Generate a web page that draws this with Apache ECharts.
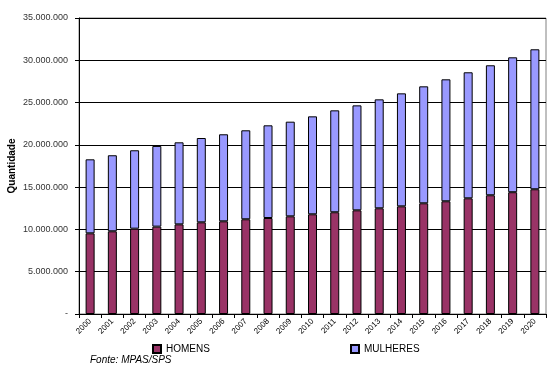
<!DOCTYPE html>
<html><head><meta charset="utf-8">
<script src="https://cdn.jsdelivr.net/npm/echarts@6/dist/echarts.min.js"></script>
<style>html,body{margin:0;padding:0;background:#fff}#c{width:553px;height:367px}</style>
</head><body><div id="c"></div>
<script>
var years = ['2000','2001','2002','2003','2004','2005','2006','2007','2008','2009','2010','2011','2012','2013','2014','2015','2016','2017','2018','2019','2020'];
var homens = [9540000,9780000,10090000,10330000,10600000,10840000,10960000,11200000,11350000,11550000,11790000,12030000,12260000,12500000,12730000,13090000,13330000,13680000,14040000,14400000,14750000];
var totais = [18290000,18770000,19360000,19870000,20300000,20810000,21250000,21720000,22310000,22740000,23370000,24080000,24670000,25380000,26090000,26920000,27750000,28580000,29410000,30350000,31300000];
var mulheres = totais.map(function(t,i){return t - homens[i];});

var chart = echarts.init(document.getElementById('c'));
function fmt(v){ if(v===0) return '-'; return String(v).replace(/\B(?=(\d{3})+(?!\d))/g,'.'); }
chart.setOption({
  animation:false,
  textStyle:{fontFamily:'Liberation Sans, Arial, sans-serif'},
  grid:{left:79,right:7,top:18,bottom:53,show:true,borderColor:'#808080',borderWidth:1,outerBoundsMode:'none',containLabel:false},
  legend:[
    {data:['HOMENS'],left:152,top:344,icon:'rect',itemWidth:8,itemHeight:8,itemGap:3,textStyle:{fontSize:10,color:'#000'},padding:0},
    {data:['MULHERES'],left:350,top:344,icon:'rect',itemWidth:8,itemHeight:8,itemGap:3,textStyle:{fontSize:10,color:'#000'},padding:0}
  ],
  graphic:[{type:'text',left:90,top:355,style:{text:'Fonte: MPAS/SPS',font:'italic 10px Liberation Sans, Arial, sans-serif',fill:'#000'}}],
  xAxis:{type:'category',data:years,
    axisLine:{lineStyle:{color:'#000'}},
    axisTick:{show:true,length:4,lineStyle:{color:'#000'}},
    axisLabel:{rotate:45,fontSize:8,color:'#000',margin:6,interval:0}},
  yAxis:{type:'value',min:0,max:35000000,interval:5000000,
    name:'Quantidade',nameLocation:'middle',nameRotate:90,nameGap:62,nameMoveOverlap:false,
    nameTextStyle:{fontSize:10,fontWeight:'bold',color:'#000'},
    axisLine:{show:true,lineStyle:{color:'#000'}},
    axisTick:{show:true,length:4,lineStyle:{color:'#000'}},
    splitLine:{lineStyle:{color:'#000'}},
    axisLabel:{formatter:fmt,fontSize:9,color:'#333',margin:11}},
  series:[
    {name:'HOMENS',type:'bar',stack:'t',data:homens,barWidth:9,itemStyle:{color:'#993366',borderColor:'#000',borderWidth:1}},
    {name:'MULHERES',type:'bar',stack:'t',data:mulheres,barWidth:9,itemStyle:{color:'#9999FF',borderColor:'#000',borderWidth:1}}
  ]
});
</script></body></html>
